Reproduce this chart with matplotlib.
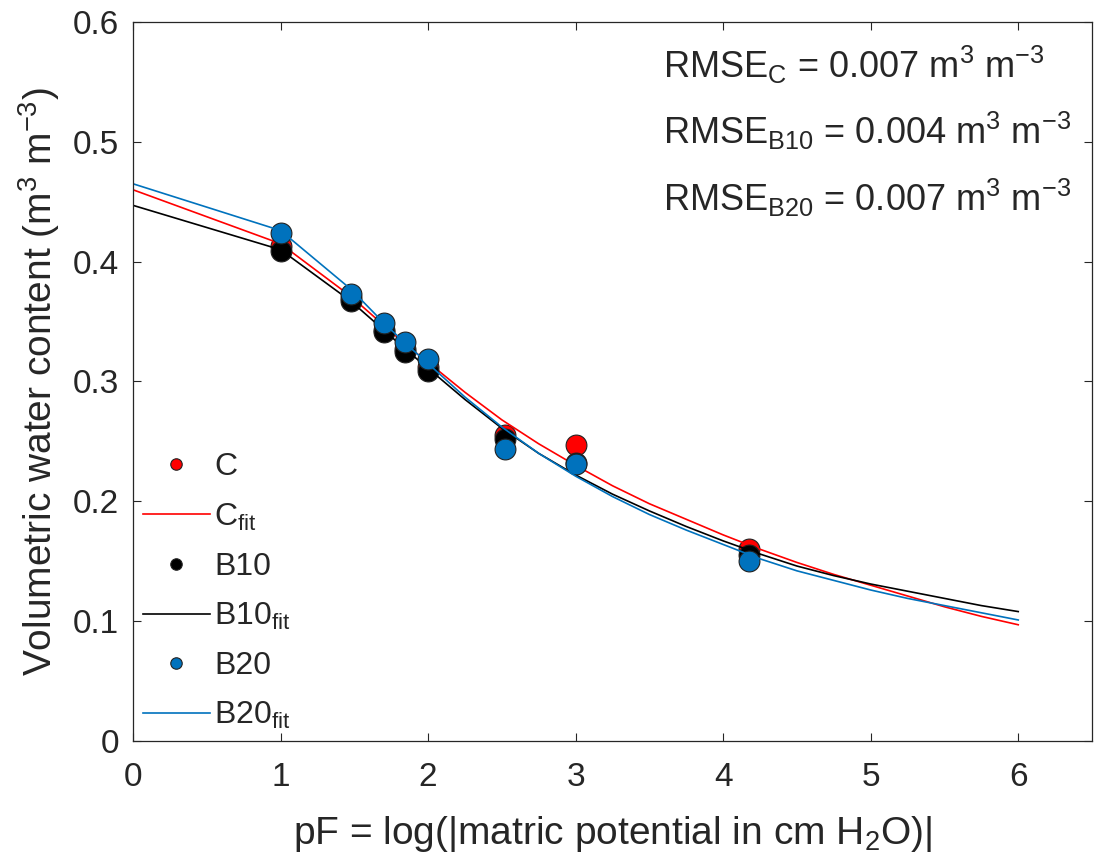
import matplotlib
matplotlib.use("Agg")
import matplotlib.pyplot as plt

plt.rcParams['font.family'] = ['Liberation Sans', 'DejaVu Sans']
plt.rcParams['mathtext.default'] = 'regular'

# Measured data (pF values)
pf_obs = [1.0, 1.477, 1.699, 1.845, 2.0, 2.519, 3.0, 4.176]
theta_C = [0.413, 0.370, 0.343, 0.327, 0.312, 0.255, 0.247, 0.160]
theta_B10 = [0.409, 0.367, 0.341, 0.325, 0.309, 0.252, 0.232, 0.155]
theta_B20 = [0.424, 0.373, 0.349, 0.333, 0.319, 0.244, 0.231, 0.150]

# Fitted curves
pf_fit = [0, 1, 1.477, 1.699, 1.845, 2, 2.25, 2.5, 2.75, 3, 3.25, 3.5, 3.75, 4,
          4.25, 4.5, 4.75, 5, 5.25, 5.5, 5.75, 6]
fit_C = [0.460, 0.415, 0.371, 0.347, 0.331, 0.316, 0.291, 0.268, 0.248, 0.230,
         0.213, 0.198, 0.185, 0.172, 0.160, 0.149, 0.139, 0.130, 0.121, 0.112,
         0.104, 0.097]
fit_B10 = [0.447, 0.410, 0.367, 0.343, 0.327, 0.311, 0.285, 0.261, 0.240, 0.222,
           0.206, 0.192, 0.179, 0.167, 0.156, 0.146, 0.138, 0.131, 0.125, 0.119,
           0.113, 0.108]
fit_B20 = [0.465, 0.426, 0.377, 0.349, 0.332, 0.315, 0.287, 0.262, 0.240, 0.221,
           0.204, 0.189, 0.176, 0.164, 0.152, 0.142, 0.134, 0.126, 0.119, 0.113,
           0.107, 0.101]

rmse_labels = ['C', 'B10', 'B20']
rmse_values = [0.007, 0.004, 0.007]

red = '#ff0000'
black = '#000000'
blue = '#0072bd'
txt = '#262626'

fig = plt.figure(figsize=(10.94, 8.59), dpi=100)
ax = fig.add_axes([133/1094, 118/859, (1092-133)/1094, (741-22)/859])

ms = 15
ax.plot(pf_obs, theta_C, 'o', color=red, mec='#222222', mew=0.8, ms=ms, label='C')
ax.plot(pf_fit, fit_C, '-', color=red, lw=1.2, label='C$_{fit}$')
ax.plot(pf_obs, theta_B10, 'o', color=black, mec='#222222', mew=0.8, ms=ms, label='B10')
ax.plot(pf_fit, fit_B10, '-', color=black, lw=1.2, label='B10$_{fit}$')
ax.plot(pf_obs, theta_B20, 'o', color=blue, mec='#222222', mew=0.8, ms=ms, label='B20')
ax.plot(pf_fit, fit_B20, '-', color=blue, lw=1.2, label='B20$_{fit}$')

ax.set_xlim(0, 6.5)
ax.set_ylim(0, 0.6)
ax.set_xticks([0, 1, 2, 3, 4, 5, 6])
ax.set_yticks([0, 0.1, 0.2, 0.3, 0.4, 0.5, 0.6])
ax.set_yticklabels(['0', '0.1', '0.2', '0.3', '0.4', '0.5', '0.6'])
ax.tick_params(direction='in', top=True, right=True, length=6, width=0.8,
               color=txt, labelsize=24, labelcolor=txt)
ax.tick_params(axis='x', pad=15)
ax.tick_params(axis='y', pad=10)
for s in ax.spines.values():
    s.set_color(txt)
    s.set_linewidth(0.9)

ax.set_xlabel('pF = log(|matric potential in cm H$_2$O)|', fontsize=28, color=txt, labelpad=15)
ax.set_ylabel('Volumetric water content (m$^3$ m$^{-3}$)', fontsize=28, color=txt, labelpad=8)

leg = ax.legend(loc='lower left', frameon=False, fontsize=23, markerscale=0.55,
                handlelength=2.1, handletextpad=0.15, labelspacing=0.6,
                borderaxespad=0.1, borderpad=0.2, bbox_to_anchor=(0.0, 0.0))
for t in leg.get_texts():
    t.set_color(txt)

for i, (lab, val) in enumerate(zip(rmse_labels, rmse_values)):
    fig.text(663/1094, 1 - (78 + i*66.5)/859,
             'RMSE$_{%s}$ = %.3f m$^3$ m$^{-3}$' % (lab, val),
             fontsize=26, color=txt, ha='left', va='baseline')

fig.savefig('out.png', dpi=100)
